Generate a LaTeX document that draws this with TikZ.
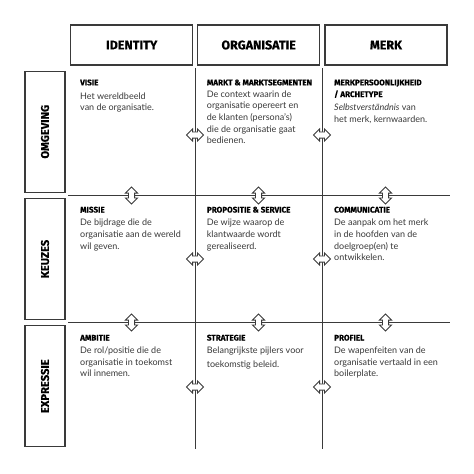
\documentclass[tikz,border=0pt]{standalone}
\usepackage{fontspec}
\setmainfont{Lato}
\newfontfamily\tfont[BoldFeatures={FakeBold=0.4}]{Fira Sans}
\usetikzlibrary{shapes.arrows}
\definecolor{ln}{HTML}{3A3A3A}
\definecolor{tx}{HTML}{383838}
\tikzset{
  hbox/.style={draw=ln, line width=1.2pt, minimum width=122pt, minimum height=40pt, inner sep=0pt,
    font=\tfont\bfseries\fontsize{12.5}{14}\selectfont, text=black},
  rbox/.style={draw=ln, line width=1.2pt, rotate=90, minimum width=121pt, minimum height=40pt, inner sep=0pt,
    font=\tfont\bfseries\fontsize{11.2}{13}\selectfont, text=black},
  gridline/.style={draw=ln, line width=0.9pt},
  darr/.style={shape=double arrow, draw=ln, fill=white, line width=0.8pt, minimum height=17pt,
    inner xsep=0pt, inner ysep=2.7pt, double arrow head extend=3pt},
  ctitle/.style={anchor=base west, inner sep=0pt, font=\tfont\bfseries\fontsize{8.1}{9}\selectfont, text=black},
  cbody/.style={anchor=base west, inner sep=0pt, align=left, font=\fontsize{9}{11.7}\selectfont, text=tx},
}
\begin{document}
\begin{tikzpicture}[x=1pt,y=-1pt]
\useasboundingbox (0,0) rectangle (474,474);
% header boxes
\node[hbox] (h1) at (131.7,45) {IDENTITY};
\node[hbox] (h2) at (258.7,45) {ORGANISATIE};
\node[hbox] (h3) at (386,45) {MERK};
% row boxes
\node[rbox] (r1) at (45,131.7) {OMGEVING};
\node[rbox] (r2) at (45,259) {KEUZES};
\node[rbox] (r3) at (45,386.2) {EXPRESSIE};
% grid lines
\coordinate (v1t) at (195,68); \coordinate (v1b) at (195,449.3);
\coordinate (v2t) at (322,68); \coordinate (v2b) at (322,449.3);
\coordinate (hl1l) at (68,195.5); \coordinate (hl1r) at (450,195.5);
\coordinate (hl2l) at (68,322.5); \coordinate (hl2r) at (450,322.5);
\draw[gridline] (v1t) -- (v1b);
\draw[gridline] (v2t) -- (v2b);
\draw[gridline] (hl1l) -- (hl1r);
\draw[gridline] (hl2l) -- (hl2r);
% vertical double arrows
\node[darr, rotate=90] (va11) at (131.5,195.5) {};
\node[darr, rotate=90] (va12) at (258.5,195.5) {};
\node[darr, rotate=90] (va13) at (385.5,195.5) {};
\node[darr, rotate=90] (va21) at (131.5,322.5) {};
\node[darr, rotate=90] (va22) at (258.5,322.5) {};
\node[darr, rotate=90] (va23) at (385.5,322.5) {};
% horizontal double arrows
\node[darr] (ha11) at (195,135) {};
\node[darr] (ha12) at (322,135) {};
\node[darr] (ha21) at (195,259) {};
\node[darr] (ha22) at (322,259) {};
\node[darr] (ha31) at (195,387) {};
\node[darr] (ha32) at (322,387) {};
% row 1 (base anchor = baseline of last line)
\node[ctitle] (t11) at (80,85.3) {VISIE};
\node[cbody] (b11) at (80,110.9) {Het wereldbeeld\\van de organisatie.};
\node[ctitle] (t12) at (206.7,85.3) {MARKT \& MARKTSEGMENTEN};
\node[cbody] (b12) at (206.7,143.8) {De context waarin de\\organisatie opereert en\\de klanten (persona’s)\\die de organisatie gaat\\bedienen.};
\node[ctitle, align=left] (t13) at (334,97) {MERKPERSOONLIJKHEID\\[2.7pt]/ ARCHETYPE};
\node[cbody] (b13) at (334,122.5) {\textit{Selbstverständnis} van\\het merk, kernwaarden.};
% row 2
\node[ctitle] (t21) at (80,212.5) {MISSIE};
\node[cbody] (b21) at (80,249.2) {De bijdrage die de\\organisatie aan de wereld\\wil geven.};
\node[ctitle] (t22) at (206.7,212.5) {PROPOSITIE \& SERVICE};
\node[cbody] (b22) at (206.7,249.2) {De wijze waarop de\\klantwaarde wordt\\gerealiseerd.};
\node[ctitle] (t23) at (334,212.5) {COMMUNICATIE};
\node[cbody] (b23) at (334,260.9) {De aanpak om het merk\\in de hoofden van de\\doelgroep(en) te\\ontwikkelen.};
% row 3
\node[ctitle] (t31) at (80,340.5) {AMBITIE};
\node[cbody] (b31) at (80,376.9) {De rol/positie die de\\organisatie in toekomst\\wil innemen.};
\node[ctitle] (t32) at (206.7,340.5) {STRATEGIE};
\node[cbody] (b32) at (206.7,367) {Belangrijkste pijlers voor\\[1.8pt]toekomstig beleid.};
\node[ctitle] (t33) at (334,340.5) {PROFIEL};
\node[cbody] (b33) at (334,376.9) {De wapenfeiten van de\\organisatie vertaald in een\\boilerplate.};
\end{tikzpicture}
\end{document}
